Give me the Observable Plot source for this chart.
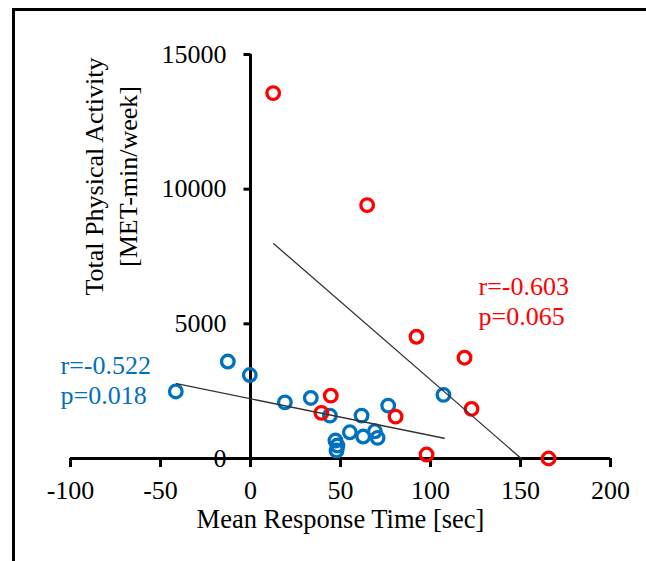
<!DOCTYPE html>
<html><head><meta charset="utf-8">
<script src="https://cdn.jsdelivr.net/npm/d3@7"></script>
<script src="https://cdn.jsdelivr.net/npm/@observablehq/plot@0.6"></script>
<style>
html,body{margin:0;padding:0;background:#fff;}
#wrap{position:relative;width:646px;height:561px;overflow:hidden;}
#frame{position:absolute;left:12px;top:8px;width:700px;height:700px;border-left:3px solid #000;border-top:3px solid #000;box-sizing:border-box;pointer-events:none;}
svg{position:absolute;left:0;top:0;}
</style></head><body><div id="wrap"><div id="frame"></div></div>
<script>
// Blue group
const blueX = [-41.5, -12.6, -0.4, 19.1, 33.5, 44.1, 61.7, 55.2, 62.6, 69.1, 70.6, 76.5, 47.2, 48.3, 47.8, 107.2];
const blueY = [2490, 3600, 3100, 2085, 2248, 1593, 1593, 974, 815, 1011, 767, 1963, 667, 481, 296, 2363];
// Red group
const redX = [12.6, 64.8, 92.2, 118.9, 122.8, 44.6, 39.4, 80.6, 97.8, 165.6];
const redY = [13567, 9407, 4519, 3741, 1841, 2333, 1693, 1556, 148, 0];
// Fit lines (end points)
const blueFitX = [-41.1, 107.6];
const blueFitY = [2778, 752];
const redFitX = [12.9, 150.4];
const redFitY = [7975, 0];
// Axes
const xTicks = [-100, -50, 0, 50, 100, 150, 200];
const yTicks = [0, 5000, 10000, 15000];
const xTitle = "Mean Response Time [sec]";
const yTitle = "Total Physical Activity\n[MET-min/week]";
const blueStats = "r=-0.522\np=0.018";
const redStats = "r=-0.603\np=0.065";

const BLUE = "#0070C0", RED = "#FF0000";
const blue = blueX.map((x, i) => ({x, y: blueY[i]}));
const red = redX.map((x, i) => ({x, y: redY[i]}));
const blueFit = blueFitX.map((x, i) => ({x, y: blueFitY[i]}));
const redFit = redFitX.map((x, i) => ({x, y: redFitY[i]}));

const leftTick = {draw(ctx) { ctx.moveTo(-7, 0); ctx.lineTo(0, 0); }};

const chart = Plot.plot({
  width: 646, height: 561,
  marginLeft: 70, marginRight: 36, marginTop: 54, marginBottom: 103,
  style: {fontFamily: "'Liberation Serif', 'Times New Roman', serif", fontSize: "26px", background: "transparent", color: "#000"},
  x: {domain: [xTicks[0], xTicks[xTicks.length - 1]]},
  y: {domain: [yTicks[0], yTicks[yTicks.length - 1]], axis: null},
  marks: [
    Plot.axisX({ticks: xTicks, tickSize: 9, tickPadding: 13, tickFormat: d => `${d}`, strokeWidth: 3, label: null, fontSize: 26}),
    Plot.ruleY([yTicks[0]], {x1: xTicks[0], x2: xTicks[xTicks.length - 1], strokeWidth: 3, stroke: "#000"}),
    Plot.ruleX([0], {y1: yTicks[0], y2: yTicks[yTicks.length - 1], strokeWidth: 3, stroke: "#000"}),
    Plot.dot(yTicks, {x: () => 0, y: d => d, symbol: leftTick, stroke: "#000", strokeWidth: 3, fill: "none"}),
    Plot.text(yTicks, {x: () => 0, y: d => d, text: d => `${d}`, dx: -24, textAnchor: "end", fontSize: 26}),
    Plot.text([yTitle], {frameAnchor: "top-left", dx: 39, dy: 122, rotate: -90, lineHeight: 1.3, textAnchor: "middle", lineAnchor: "middle", fontSize: 26}),
    Plot.text([xTitle], {frameAnchor: "bottom", dy: 69, fontSize: 26.5}),
    Plot.dot(blue, {x: "x", y: "y", r: 6.3, stroke: BLUE, strokeWidth: 3.3, fill: "none"}),
    Plot.dot(red, {x: "x", y: "y", r: 6.3, stroke: RED, strokeWidth: 3.3, fill: "none"}),
    Plot.line(blueFit, {x: "x", y: "y", stroke: "#333", strokeWidth: 1.3}),
    Plot.line(redFit, {x: "x", y: "y", stroke: "#333", strokeWidth: 1.3}),
    Plot.text([blueStats], {frameAnchor: "top-left", dx: -10, dy: 325, textAnchor: "start", lineAnchor: "middle", lineHeight: 1.15, fill: BLUE, fontSize: 26}),
    Plot.text([redStats], {frameAnchor: "top-left", dx: 408, dy: 246, textAnchor: "start", lineAnchor: "middle", lineHeight: 1.15, fill: RED, fontSize: 26})
  ]
});
document.getElementById("wrap").insertBefore(chart, document.getElementById("frame"));
</script></body></html>
